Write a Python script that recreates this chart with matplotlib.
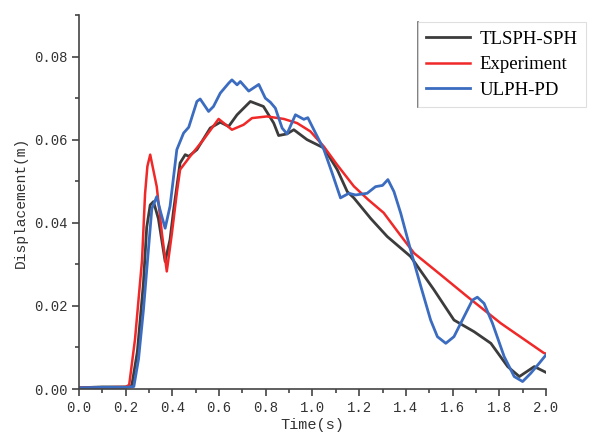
import matplotlib
matplotlib.use('Agg')
import matplotlib.pyplot as plt
from matplotlib.ticker import MultipleLocator, FormatStrFormatter
from matplotlib.lines import Line2D

# TLSPH-SPH
t_tlsph = [0, 0.1, 0.2, 0.226, 0.25, 0.276, 0.29, 0.305, 0.319, 0.34, 0.369, 0.39,
           0.405, 0.433, 0.455, 0.47, 0.505, 0.562, 0.605, 0.641, 0.677, 0.734,
           0.79, 0.834, 0.855, 0.891, 0.92, 0.977, 1.049, 1.106, 1.149, 1.177,
           1.25, 1.32, 1.42, 1.52, 1.606, 1.692, 1.764, 1.836, 1.886, 1.95,
           1.993, 2.0]
d_tlsph = [0.0003, 0.0005, 0.0005, 0.0008, 0.009, 0.0255, 0.0389, 0.0443, 0.0451,
           0.041, 0.0307, 0.036, 0.043, 0.0544, 0.0564, 0.056, 0.0576, 0.0628,
           0.0642, 0.0632, 0.066, 0.0692, 0.068, 0.064, 0.061, 0.0614, 0.0624,
           0.060, 0.058, 0.0528, 0.0475, 0.046, 0.041, 0.0367, 0.0319, 0.0239,
           0.0166, 0.0138, 0.011, 0.0054, 0.003, 0.0054, 0.0042, 0.004]

# Experiment
t_exp = [0, 0.1, 0.2, 0.215, 0.24, 0.27, 0.283, 0.293, 0.305, 0.333, 0.355,
         0.376, 0.398, 0.419, 0.433, 0.476, 0.533, 0.598, 0.655, 0.705, 0.741,
         0.805, 0.877, 0.934, 0.991, 1.048, 1.105, 1.177, 1.24, 1.305, 1.37,
         1.435, 1.549, 1.664, 1.807, 1.99, 2.0]
d_exp = [0.0003, 0.0004, 0.0005, 0.001, 0.012, 0.031, 0.047, 0.0536, 0.0564,
         0.0487, 0.0375, 0.0283, 0.0375, 0.0472, 0.0528, 0.056, 0.060, 0.065,
         0.0624, 0.0636, 0.0652, 0.0656, 0.065, 0.064, 0.062, 0.0584, 0.054,
         0.0488, 0.0455, 0.0424, 0.0375, 0.0327, 0.0275, 0.0222, 0.0158, 0.0087,
         0.0085]

# ULPH-PD
t_ulph = [0, 0.1, 0.2, 0.235, 0.255, 0.276, 0.298, 0.312, 0.333, 0.35, 0.369,
          0.39, 0.419, 0.448, 0.47, 0.505, 0.519, 0.555, 0.576, 0.605, 0.641,
          0.655, 0.677, 0.691, 0.727, 0.77, 0.798, 0.82, 0.841, 0.87, 0.891,
          0.927, 0.963, 0.98, 1.013, 1.049, 1.084, 1.12, 1.156, 1.185, 1.234,
          1.27, 1.30, 1.323, 1.349, 1.378, 1.42, 1.464, 1.506, 1.535, 1.571,
          1.606, 1.649, 1.685, 1.706, 1.735, 1.771, 1.821, 1.864, 1.90, 1.935,
          1.971, 2.0]
d_ulph = [0.0003, 0.0004, 0.0004, 0.0006, 0.0072, 0.019, 0.034, 0.0434, 0.0463,
          0.0425, 0.0387, 0.044, 0.0576, 0.0616, 0.063, 0.0692, 0.0698, 0.0668,
          0.068, 0.0712, 0.0736, 0.0744, 0.0732, 0.074, 0.0717, 0.0733, 0.070,
          0.069, 0.0676, 0.0628, 0.0614, 0.066, 0.0649, 0.0653, 0.0616, 0.0576,
          0.052, 0.046, 0.0471, 0.0467, 0.0471, 0.0487, 0.049, 0.0504, 0.0475,
          0.0423, 0.0335, 0.0247, 0.0166, 0.0126, 0.011, 0.0126, 0.0174, 0.0214,
          0.0221, 0.0206, 0.0158, 0.0078, 0.003, 0.0018, 0.0038, 0.0062, 0.0082]

axis_color = '#444444'
mono = 'Liberation Mono'

fig = plt.figure(figsize=(6.09, 4.45), dpi=100)
ax = fig.add_axes([0.1297, 0.1258, 0.7668, 0.8404])

ax.plot(t_tlsph, d_tlsph, color='#3c3c3c', lw=2, label='TLSPH-SPH')
ax.plot(t_exp, d_exp, color='#f02828', lw=1.8, label='Experiment')
ax.plot(t_ulph, d_ulph, color='#3b6cc0', lw=2, label='ULPH-PD')

ax.set_xlim(0, 2.0)
ax.set_ylim(0, 0.09)
ax.xaxis.set_major_locator(MultipleLocator(0.2))
ax.xaxis.set_minor_locator(MultipleLocator(0.1))
ax.yaxis.set_major_locator(MultipleLocator(0.02))
ax.yaxis.set_minor_locator(MultipleLocator(0.01))
ax.xaxis.set_major_formatter(FormatStrFormatter('%.1f'))
ax.yaxis.set_major_formatter(FormatStrFormatter('%.2f'))

for side in ['top', 'right']:
    ax.spines[side].set_visible(False)
for side in ['left', 'bottom']:
    ax.spines[side].set_color(axis_color)
    ax.spines[side].set_linewidth(1.2)

ax.tick_params(which='major', direction='out', length=5, width=1.2,
               color=axis_color, labelcolor='#333333', labelsize=10)
ax.tick_params(which='minor', direction='out', length=3, width=1.2,
               color=axis_color)
for lab in ax.get_xticklabels() + ax.get_yticklabels():
    lab.set_fontfamily(mono)

ax.set_xlabel('Time(s)', fontfamily=mono, fontsize=11, color='#333333', labelpad=2)
ax.set_ylabel('Displacement(m)', fontfamily=mono, fontsize=10.5, color='#333333',
              labelpad=4)

leg = fig.legend(loc='upper left', bbox_to_anchor=(418 / 609, 1 - 22 / 445),
                 prop={'family': 'Liberation Serif', 'size': 13.5},
                 frameon=True, fancybox=False, edgecolor='#d8d8d8',
                 borderaxespad=0, borderpad=0.45, handlelength=2.3,
                 handletextpad=0.55, labelspacing=0.45)
leg.get_frame().set_linewidth(0.8)

# darker left edge of the legend box, as in the original
fig.canvas.draw()
bb = leg.get_window_extent().transformed(fig.transFigure.inverted())
fig.add_artist(Line2D([bb.x0, bb.x0], [bb.y0, bb.y1], transform=fig.transFigure,
                      color='#666666', lw=1.2))

fig.savefig('out.png', dpi=100)
